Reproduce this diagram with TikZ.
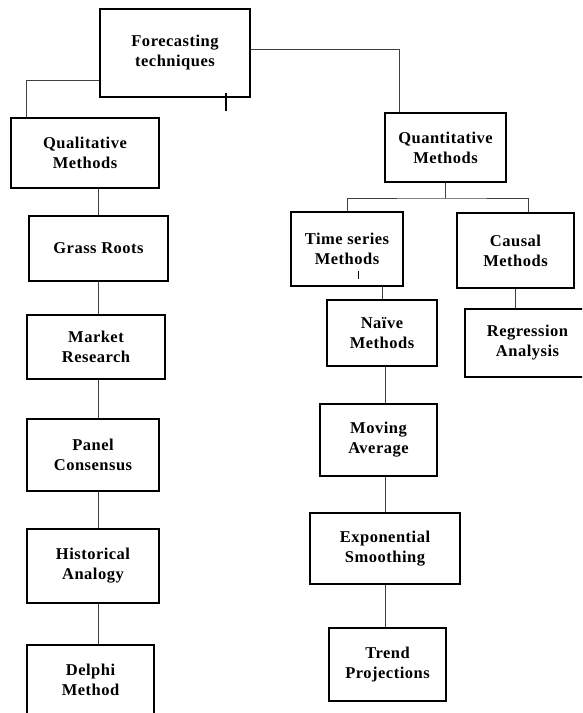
\documentclass[tikz,border=0pt]{standalone}
\usepackage{fontspec}
\setmainfont{Liberation Serif}[LetterSpace=3]
\begin{document}
\begin{tikzpicture}[x=1pt,y=-1pt,
  box/.style={draw=black,line width=2pt,fill=white,align=center,inner sep=0pt,
    font=\fontsize{16.5}{20}\selectfont\bfseries},
  conn/.style={draw=black!75,line width=1pt}]
\useasboundingbox (0,0) rectangle (582,713);
\clip (0,0) rectangle (582,713);
\fill[white] (0,0) rectangle (582,713);
\newcommand{\bx}[6]{\node[box,minimum width=#4,minimum height=#5] (#1) at (#2,#3) {#6};}
\bx{F}{175}{53}{150}{88}{Forecasting\\techniques}
\bx{Ql}{85}{153}{148}{70}{Qualitative\\Methods}
\bx{G}{98.5}{248.5}{139}{65}{Grass Roots}
\bx{M}{96}{347}{138}{64}{Market\\Research}
\bx{P}{93}{455}{132}{72}{Panel\\Consensus}
\bx{H}{93}{566}{132}{74}{Historical\\Analogy}
\bx{D}{90.5}{680}{127}{70}{Delphi\\Method}
\bx{Qn}{445.5}{147.5}{121}{69}{Quantitative\\Methods}
\bx{TS}{347}{249}{112}{74}{Time series\\Methods}
\bx{C}{515.5}{250.5}{117}{75}{Causal\\Methods}
\bx{Nv}{382}{333}{110}{66}{Naïve\\Methods}
\bx{R}{527.5}{343}{125}{68}{Regression\\Analysis}
\bx{Mv}{378.5}{440}{117}{72}{Moving\\Average}
\bx{E}{385}{548.5}{150}{71}{Exponential\\Smoothing}
\bx{T}{387.5}{664.5}{117}{73}{Trend\\Projections}
% connectors
\draw[conn] ([yshift=18pt]F.south west) -| ([xshift=16pt]Ql.north west);
\draw[conn] ([yshift=4pt]F.east) -| ([xshift=15pt]Qn.north west);
\draw[conn] (Qn.south) -- ++(0,15) coordinate (j);
\draw[conn] (TS.north) |- (j) -| ([xshift=12.5pt]C.north);
\draw[conn] (Nv.north) -- (Nv.north |- TS.south);
\draw[conn] (C.south) -- (C.south |- R.north);
\draw[conn] (Nv.south -| E.north) -- (Mv.north -| E.north);
\draw[conn] (Mv.south -| E.north) -- (E.north);
\draw[conn] (E.south) -- (E.south |- T.north);
\draw[conn] (Ql.south -| G.north) -- (G.north);
\draw[conn] (G.south) -- (G.south |- M.north);
\draw[conn] (M.south -| G.south) -- (P.north -| G.south);
\draw[conn] (P.south -| G.south) -- (H.north -| G.south);
\draw[conn] (H.south -| G.south) -- (D.north -| G.south);
% cursor marks
\draw[line width=2pt] (226,93) -- (226,111);
\draw[line width=1pt] (358,271) -- (358,279);
\end{tikzpicture}
\end{document}
